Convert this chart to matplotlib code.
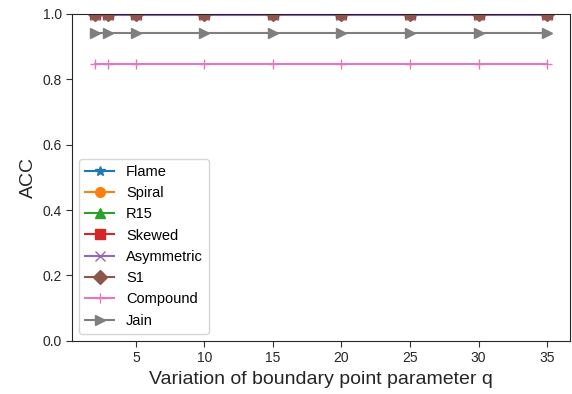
import matplotlib
matplotlib.use("Agg")
import matplotlib.pyplot as plt

plt.rcParams['font.family'] = ['Liberation Sans', 'DejaVu Sans']

q = [2, 3, 5, 10, 15, 20, 25, 30, 35]
flame = [1.0] * 9
spiral = [1.0] * 9
r15 = [1.0] * 9
skewed = [1.0] * 9
asymmetric = [0.996] * 9
s1 = [1.0] * 9
compound = [0.8462] * 9
jain = [0.9410] * 9

series = [
    ("Flame", flame, "*"),
    ("Spiral", spiral, "o"),
    ("R15", r15, "^"),
    ("Skewed", skewed, "s"),
    ("Asymmetric", asymmetric, "x"),
    ("S1", s1, "D"),
    ("Compound", compound, "+"),
    ("Jain", jain, ">"),
]

fig = plt.figure(figsize=(5.72, 3.94), dpi=100)
ax = fig.add_axes([0.126, 0.135, 0.87, 0.83])
for name, vals, m in series:
    ax.plot(q, vals, marker=m, label=name, markersize=7, linewidth=1.5)

ax.set_ylim(0, 1.0)
ax.set_yticks([0.0, 0.2, 0.4, 0.6, 0.8, 1.0])
ax.set_xticks([5, 10, 15, 20, 25, 30, 35])
ax.tick_params(direction='out', length=4, labelsize=10, colors='#333333')
ax.tick_params(axis='both', labelcolor='#262626')
for s in ax.spines.values():
    s.set_color('#262626')
ax.set_xlabel("Variation of boundary point parameter q", fontsize=14, color='#262626')
ax.set_ylabel("ACC", fontsize=14, color='#262626')
ax.legend(loc='lower left', fontsize=10.5, labelspacing=0.5)
fig.savefig("out.png", dpi=100)
